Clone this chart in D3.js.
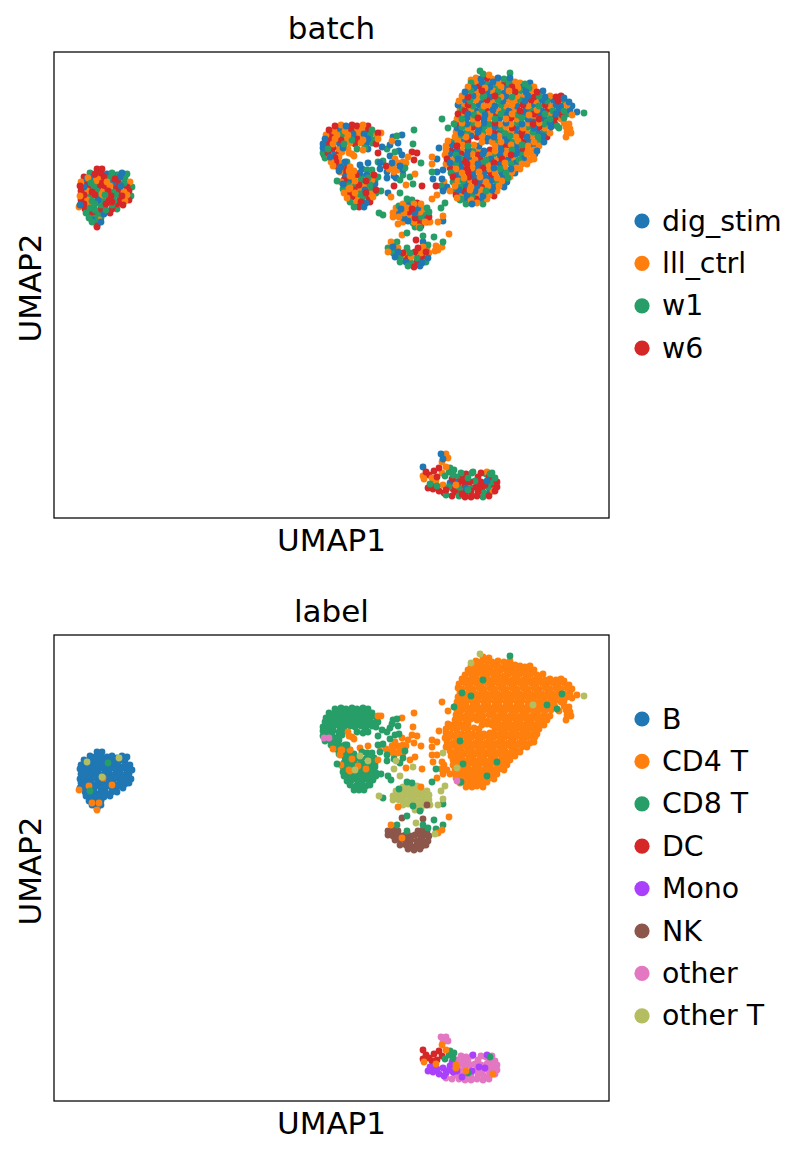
<!DOCTYPE html>
<html>
<head>
<meta charset="utf-8">
<script src="https://cdn.jsdelivr.net/npm/d3@7/dist/d3.min.js"></script>
<style>
html,body{margin:0;padding:0;background:#fff}
svg{display:block}
text{font-family:"DejaVu Sans";fill:#000}
</style>
</head>
<body>
<div id="chart"></div>
<script>
// Embedding coordinates are [umap1, umap2, batchIndex]; each array holds one cell type.
const batchNames = ["dig_stim", "lll_ctrl", "w1", "w6"];
const batchColors = ["#1f77b4", "#ff7f0e", "#279e68", "#d62728"];
const labelNames = ["B", "CD4 T", "CD8 T", "DC", "Mono", "NK", "other", "other T"];
const labelColors = ["#1f77b4", "#ff7f0e", "#279e68", "#d62728", "#aa40fc", "#8c564b", "#e377c2", "#b5bd61"];

const bCells = [
[43,349,3],[48,349,3],
[36,345,2],[41,344,3],[47,345,3],[53,344,0],[58,345,2],[63,343,0],[68,345,0],[73,344,2],
[30,341,3],[34,340,1],[39,341,0],[45,340,1],[50,341,3],[56,340,2],[61,339,3],[66,341,0],[71,340,2],
[27,336,1],[32,336,3],[37,335,2],[42,337,1],[48,335,3],[53,336,1],[59,335,0],[64,336,3],[70,335,2],[76,336,1],
[26,332,3],[30,331,0],[35,332,3],[40,331,2],[45,332,3],[51,331,3],[56,332,1],[62,331,3],[67,332,0],[73,331,3],[78,331,2],
[27,327,3],[33,327,1],[38,326,3],[43,327,2],[48,326,1],[54,327,3],[59,326,2],[65,327,3],[70,326,1],[75,327,3],
[26,322,1],[30,323,3],[36,322,2],[41,323,3],[46,322,2],[51,323,2],[57,322,3],[62,323,2],[68,322,3],[73,323,1],[77,322,2],
[27,318,3],[33,318,1],[38,317,2],[44,318,0],[49,317,2],[55,318,3],[60,317,2],[66,318,3],[71,317,1],[75,318,3],
[26,313,0],[30,314,3],[36,313,1],[41,314,2],[47,313,2],[52,314,3],[58,313,2],[63,314,3],[69,313,3],
[31,309,3],[36,309,2],[41,308,2],[47,309,3],[52,308,2],[58,309,3],[63,309,2],
[32,305,2],[38,304,3],[44,305,2],[50,304,0],[56,305,3],
[35,300,2],[41,300,2],[47,300,2],
[38,296,2],[44,295,2],[47,296,0],
[43,292,3]
];
const bAsCd4 = [[35,315,1],[58,316,3],[25,311,1],[43,291,3],[38,298,0],[45,298,1],[49,323,1]];
const bAsCd8 = [[36,310,2],[54,338,2]];
const bAsOtherT = [[33,339,0],[65,343,2],[48,324,1]];

const cd4Cells = [
[429,444,2],[435,443,1],
[422,440,1],[427,439,0],[433,440,3],[438,439,1],[444,440,0],[450,439,2],[456,440,0],
[417,435,2],[422,436,1],[428,435,0],[433,434,2],[439,436,0],[444,435,1],[450,434,3],[455,435,2],[461,436,1],[466,435,1],[471,434,2],[476,435,0],
[414,431,1],[420,430,0],[425,431,3],[431,430,1],[436,431,0],[442,430,2],[447,431,1],[453,430,0],[458,431,3],[464,430,1],[469,431,0],[475,430,2],[480,431,1],
[411,426,0],[417,427,2],[422,426,1],[428,427,3],[433,426,0],[439,427,1],[444,426,2],[450,425,0],[455,427,1],[461,426,3],[466,427,2],[472,426,0],[477,427,1],[483,426,3],[489,427,0],
[408,422,1],[414,421,3],[419,422,0],[425,421,1],[430,422,2],[436,421,0],[441,422,3],[447,421,1],[452,422,0],[458,421,2],[463,422,1],[469,421,1],[474,422,0],[480,421,3],[485,422,2],[491,421,0],[496,422,1],[502,421,3],[507,422,3],[510,420,0],
[405,417,1],[411,418,0],[416,417,2],[422,418,1],[427,417,0],[433,418,3],[438,417,1],[444,418,2],[449,417,0],[455,418,1],[460,417,1],[466,418,2],[471,417,0],[477,418,3],[482,417,1],[488,418,0],[493,417,2],[499,418,0],[504,417,3],[510,418,2],[515,416,0],
[404,413,0],[408,412,1],[414,413,3],[419,412,2],[425,413,0],[430,412,1],[436,413,1],[441,412,0],[447,413,2],[452,412,1],[458,413,1],[463,412,0],[469,413,3],[474,412,1],[480,413,0],[485,412,2],[491,413,3],[496,412,1],[502,413,0],[507,412,0],[513,413,1],[518,412,0],
[406,408,1],[411,407,3],[417,408,1],[422,407,0],[428,408,2],[433,407,3],[439,408,0],[444,407,1],[450,408,2],[455,407,0],[461,408,1],[466,407,3],[472,408,0],[477,407,2],[483,408,1],[488,407,0],[494,408,3],[499,407,2],[505,408,0],[510,407,2],[516,408,0],[523,406,0],
[404,404,3],[409,403,1],[414,404,0],[420,403,2],[425,404,1],[431,403,0],[436,404,1],[442,403,3],[447,404,2],[453,403,0],[458,404,1],[464,403,2],[469,404,0],[475,403,1],[480,404,3],[486,403,0],[491,404,2],[497,403,1],[502,404,0],[508,403,3],[513,404,2],[518,403,1],
[403,399,1],[408,399,2],[413,400,0],[419,399,1],[424,400,3],[430,399,0],[435,400,1],[441,399,2],[446,400,0],[452,399,1],[457,400,3],[463,399,1],[468,400,2],[474,399,0],[479,400,1],[485,399,3],[490,400,0],[496,399,2],[501,400,3],[507,399,1],[510,400,2],
[402,395,3],[408,395,1],[413,394,0],[419,395,2],[424,394,1],[430,395,0],[435,394,2],[441,395,3],[446,394,1],[452,395,0],[457,394,1],[463,395,2],[468,394,0],[474,395,1],[479,394,3],[485,395,1],[490,394,2],[496,395,0],[501,394,3],[510,395,1],[515,394,1],
[403,390,0],[408,391,2],[414,390,1],[419,391,3],[425,390,0],[430,391,2],[436,390,1],[441,391,0],[447,390,2],[452,391,1],[458,390,3],[463,391,0],[469,390,1],[474,391,2],[480,390,0],[485,391,3],[491,390,1],[497,391,0],[505,390,2],[512,391,1],[516,389,1],
[402,386,1],[407,385,0],[413,386,2],[418,385,1],[424,386,0],[429,385,2],[435,386,1],[440,385,3],[446,386,0],[451,385,2],[457,386,1],[462,385,0],[468,386,3],[473,385,1],[479,386,2],[484,385,0],[490,386,2],[496,385,1],[513,386,1],[517,385,1],
[401,381,1],[406,382,2],[412,381,1],[417,382,0],[423,381,3],[428,382,1],[434,380,0],[440,381,0],[445,382,1],[451,381,0],[456,382,2],[462,381,1],[467,382,3],[473,381,0],[478,382,1],[484,381,2],[489,382,0],[493,381,3],[512,381,1],
[394,377,1],[399,376,2],[404,377,1],[409,376,0],[414,377,3],[428,376,1],[433,377,0],[438,376,1],[442,377,2],[447,376,1],[453,377,0],[458,376,2],[464,377,1],[469,376,3],[475,377,0],[480,376,1],[486,377,2],[490,376,0],
[392,372,1],[398,373,0],[403,372,3],[409,373,1],[414,372,2],[420,373,1],[425,372,0],[441,372,1],[446,373,0],[452,372,3],[457,373,1],[463,372,0],[468,373,2],[474,372,1],[479,373,0],[485,372,1],
[392,368,1],[397,367,3],[403,368,0],[408,367,1],[414,368,0],[419,367,2],[425,368,1],[430,367,0],[436,368,3],[441,367,1],[447,368,0],[452,367,1],[458,368,2],[463,367,0],[469,368,3],[474,367,1],[480,368,1],[483,367,0],
[391,363,1],[396,364,0],[402,363,2],[407,364,3],[413,363,0],[418,364,1],[424,363,3],[429,364,0],[435,363,1],[440,364,2],[446,363,0],[451,364,1],[457,363,3],[462,364,0],[468,363,2],[473,364,1],[479,363,1],[481,364,0],
[393,359,3],[399,358,1],[404,359,0],[410,358,3],[415,359,0],[421,358,1],[426,359,3],[432,358,2],[437,359,0],[443,358,1],[448,359,3],[454,358,0],[459,359,1],[465,358,2],[470,359,0],[476,358,1],[480,359,1],
[392,354,1],[396,355,0],[402,354,2],[407,355,0],[413,354,3],[418,355,1],[424,354,0],[429,355,2],[435,354,1],[440,355,3],[446,354,0],[451,355,1],[457,354,2],[462,355,0],[468,354,1],[473,354,1],
[396,350,3],[402,349,1],[407,350,0],[413,349,3],[418,350,1],[424,349,0],[429,350,3],[435,349,1],[440,350,0],[446,349,2],[451,350,1],[457,349,0],[462,350,1],[466,349,1],
[397,345,2],[403,346,0],[408,345,1],[414,346,3],[419,345,0],[425,346,1],[430,345,0],[436,346,3],[441,345,1],[447,346,0],[452,345,2],[458,346,1],[461,345,0],
[399,341,3],[404,341,0],[410,340,1],[415,341,3],[421,340,0],[426,341,1],[432,340,0],[437,341,3],[443,340,1],[448,341,0],[454,340,2],[456,341,1],
[399,336,2],[404,337,1],[410,336,0],[415,337,1],[421,336,3],[426,337,0],[432,336,1],[437,337,0],[443,336,2],[448,337,1],[453,336,0],
[401,332,1],[406,331,2],[412,332,0],[417,331,1],[423,332,0],[428,331,3],[434,332,1],[439,331,0],[445,332,1],[450,331,0],
[401,327,2],[405,328,0],[410,327,3],[416,328,1],[421,327,0],[427,328,1],[432,327,2],[438,328,0],[443,327,1],
[402,323,3],[407,322,1],[413,323,0],[418,322,2],[424,323,1],[429,322,0],[435,323,1],[440,322,3],
[406,318,2],[411,319,0],[417,318,1],[422,319,3],[428,318,0],[433,319,1],
[412,314,2],[418,314,0],[423,315,1],[429,314,2]
];
const cd4AsCd8 = [[406,360,2],[408,408,2],[417,405,2],[429,421,2],[443,339,2],[409,337,2],[503,392,2],[508,407,2],[493,396,2],[456,445,2],[400,394,2],[407,319,2],[433,325,2]];
const cd4AsOtherT = [[426,447,2],[479,396,0],[417,438,1],[530,405,2],[403,333,3]];
const cd4AsOther = [[403,320,1]];

const streakCd4 = [
[388,399,2],[394,390,2],[385,370,0],[378,361,1],[383,359,0],[378,354,1],[378,346,2],[383,346,0],
[379,339,0],[388,339,0],[393,331,0],[389,327,0],[383,323,1],[390,336,1],[387,332,2],[396,327,1]
];
const streakCd8 = [[382,332,3],[378,319,1],[389,297,0]];
const streakOtherT = [[389,348,0],[391,315,2],[387,310,2],[389,302,1],[384,296,1]];

const middleCd4 = [
[360,388,2],[359,374,2],[358,366,3],[348,363,0],[354,361,1],[363,365,3],[360,358,3],[367,355,2],
[348,383,0],[338,355,0],[344,355,1],[349,356,1],[326,355,0],[314,355,0],[306,353,0],[296,351,1],[288,351,3],[279,352,1],
[324,341,2],[356,341,2],[361,344,1],[324,385,3],[327,385,1],[339,351,1],[344,348,1],[349,348,0],[352,333,1],[368,332,3],
[341,359,1],[352,355,1],[346,352,0],[335,349,1],[340,346,1],[332,352,3],[295,365,1],[300,362,1],[286,346,1],[304,335,1],[296,330,1],[312,332,1]
];
const middleCd8 = [
[339,381,0],[343,382,2],[336,373,0],[344,375,0],[328,371,0],[333,369,2],[311,370,2],[324,365,3],[293,356,2],[324,356,2],[329,357,2],
[351,350,2],[333,346,0],[313,348,2],[283,337,2],[327,327,2],[334,325,0],[337,321,1],[329,303,2],[318,348,2],[326,349,0],[308,349,0],
[338,377,1],[345,367,0],[341,366,2],[336,362,0],[349,343,2],[346,338,2],[333,340,0],[340,342,0]
];
const middleOtherT = [[325,305,2],[340,332,3],[346,325,2],[359,334,2],[306,345,0],[314,340,2],[301,331,2],[342,340,0]];

const cd8Cells = [
[281,392,3],[287,393,1],[292,392,0],[298,393,3],[303,392,3],[309,393,1],[314,392,3],
[275,388,3],[280,387,1],[286,388,0],[291,387,1],[297,388,3],[302,387,1],[308,388,1],[313,387,3],[318,388,2],
[272,383,1],[277,384,3],[283,383,1],[288,384,2],[294,383,1],[299,384,0],[305,383,1],[310,384,0],[316,383,2],[322,384,1],
[271,379,0],[276,378,3],[281,379,1],[287,378,3],[292,379,1],[298,378,2],[303,379,3],[309,378,1],[314,379,0],[320,378,2],[324,379,1],
[269,374,0],[274,375,3],[279,374,1],[285,375,0],[290,374,2],[296,375,1],[301,374,3],[307,375,1],[312,374,0],[318,375,2],[322,374,3],
[269,370,0],[274,369,2],[279,370,3],[285,369,1],[289,370,0],[303,369,2],[309,368,1],[314,369,0],
[269,365,2],[274,365,3],[279,364,0],[285,365,3],[288,366,1],
[271,360,2],[276,361,0],[281,360,3],[285,361,1],
[277,356,1],[282,356,3],[287,355,1],[291,356,0],
[282,352,3],[287,351,0],[292,352,3],[296,351,1],
[285,347,0],[290,348,3],[295,347,1],[300,347,1],
[291,343,0],[296,342,1],[302,343,3],[307,342,2],[313,343,0],[318,342,1],[320,343,3],
[290,338,3],[296,338,0],[301,337,1],[307,338,2],[312,337,3],[318,338,1],[321,337,2],
[289,334,0],[294,333,2],[299,334,1],[305,333,3],[310,334,1],[316,333,2],[321,334,0],
[289,329,2],[295,329,1],[300,328,3],[306,329,1],[311,328,0],[317,329,2],[322,328,3],
[290,325,1],[295,324,3],[301,325,1],[306,324,2],[312,325,3],[317,324,1],[322,325,2],
[293,320,1],[298,321,3],[304,320,1],[309,321,2],[315,320,3],[319,321,1],
[296,316,2],[302,315,1],[307,316,3],[312,315,0],[316,316,3],
[300,311,2],[305,311,3],[310,311,0]
];
const cd8AsOther = [[270,363,3],[275,363,1]];
const cd8AsCd4 = [[294,369,1],[298,364,1],[287,351,1],[295,331,1],[298,342,1],[287,336,1]];

const otherTCells = [
[349,314,1],[355,315,0],[360,314,1],[363,315,3],
[342,310,1],[347,309,0],[353,310,1],[358,309,3],[364,310,0],[369,309,1],[373,310,2],
[339,305,1],[344,306,0],[350,305,1],[355,306,3],[361,305,0],[366,306,1],[372,305,2],[375,306,2],
[339,301,1],[345,301,1],[350,300,0],[356,301,1],[361,300,3],[367,301,2],[372,300,0],[375,301,3],
[349,296,1],[354,297,0],[360,296,1],[365,297,3],[371,296,1],[376,296,1],
[361,291,2],[365,291,1],[367,292,3]
];
const otherTAsCd8 = [[353,319,2],[358,318,2],[359,295,2],[366,290,2],[345,312,2]];
const otherTAsCd4 = [[344,294,1],[367,314,1]];
const otherTAsNk = [[373,296,3]];

const nkCells = [
[334,270,2],[339,271,0],[344,270,1],[364,270,3],[369,271,1],[373,270,1],
[334,266,1],[339,265,2],[344,266,0],[349,265,3],[352,266,1],[356,265,2],[361,266,3],[367,265,1],[372,266,3],[375,265,1],
[341,261,0],[346,261,2],[352,260,3],[357,261,1],[363,260,2],[368,261,3],[374,260,0],
[346,256,2],[352,256,0],[357,255,2],[363,256,3],[368,255,0],[372,256,2],
[354,252,2],[360,251,3],[366,252,0]
];
const nkAbove = [[348,283,1],[369,282,2]];
const nkNearCd8 = [[353,285,2],[380,281,2],[343,276,2],[389,276,2],[369,276,0],[382,272,1],[353,270,2],[374,273,2]];
const nkNearCd4 = [[395,284,1],[337,276,1],[388,271,1],[384,268,1],[348,263,1]];
const nkNearOtherT = [[362,278,3],[381,267,1]];

const dcCells = [[369,51,0],[372,46,3],[369,42,1],[375,43,3],[380,47,3],[385,50,3],[383,41,3],[378,40,1],[388,45,1]];
const lowerCd4 = [[370,39,1],[382,37,1],[388,56,1],[402,33,1],[439,27,1],[402,36,1],[412,30,0],[392,51,1]];
const lowerCd8 = [[391,42,2],[396,50,2],[399,43,2],[400,48,2],[395,46,2],[414,28,2],[436,44,2]];
const monoCells = [[376,34,2],[379,29,3],[381,35,0],[385,27,3],[389,33,1],[392,28,3],[396,35,0],[399,29,3],[401,36,0],[403,30,3],[408,24,3],[419,46,2],[433,46,1],[398,39,3],[425,34,3],[418,30,2],[431,33,3],[374,30,3],[383,32,2],[395,31,2],[390,25,3]];
const otherCells = [
[387,64,0],[392,64,1],[389,59,0],[394,60,1],
[403,41,2],[407,45,2],[412,44,3],[418,45,2],[427,45,3],[432,44,2],[438,45,2],[435,41,3],[441,40,2],
[405,36,3],[410,37,3],[416,36,3],[421,37,2],[427,36,3],[433,37,0],[438,36,2],[443,36,3],
[405,31,2],[411,32,3],[417,27,3],[422,31,3],[428,30,3],[434,31,2],[440,31,3],[443,31,3],
[401,26,3],[406,27,2],[412,26,3],[418,22,2],[424,26,3],[430,25,2],[436,26,0],[441,27,3],
[392,23,2],[398,22,3],[405,22,2],[411,21,3],[417,21,3],[423,22,3],[429,21,2],[435,22,3],[424,41,3],[414,40,2],[409,41,3]
];

// Every group with its categorical label, in drawing order
const groups = [
  [bCells, 0], [bAsCd4, 1], [bAsCd8, 2], [bAsOtherT, 7],
  [cd8Cells, 2], [cd8AsCd4, 1], [cd8AsOther, 6],
  [middleCd4, 1], [middleCd8, 2], [middleOtherT, 7],
  [otherTCells, 7], [otherTAsCd8, 2], [otherTAsCd4, 1], [otherTAsNk, 5],
  [nkAbove, 5], [nkCells, 5], [nkNearCd8, 2], [nkNearCd4, 1], [nkNearOtherT, 7],
  [streakCd4, 1], [streakCd8, 2], [streakOtherT, 7],
  [cd4Cells, 1], [cd4AsCd8, 2], [cd4AsOtherT, 7], [cd4AsOther, 6],
  [otherCells, 6], [dcCells, 3], [monoCells, 4], [lowerCd8, 2], [lowerCd4, 1]
];
const cells = groups.flatMap(([rows, label]) => rows.map(([u1, u2, batch]) => ({u1, u2, batch, label})));

const width = 809, height = 1155;
const panelW = 555, panelH = 466, left = 54;
const svg = d3.select("#chart").append("svg").attr("width", width).attr("height", height);

const x = d3.scaleLinear().domain([0, 555]).range([0, panelW]);
const y = d3.scaleLinear().domain([0, 466]).range([panelH, 0]);

// Batch colours interleave when cells are visited in golden-ratio order
const batchOrder = d3.range(cells.length)
  .sort((a, b) => (a * 0.618034) % 1 - (b * 0.618034) % 1)
  .map(i => cells[i]);

function panel(top, title, names, colors, key, order, legendY) {
  const g = svg.append("g").attr("transform", `translate(${left},${top})`);
  g.append("g").selectAll("circle").data(order).join("circle")
    .attr("cx", d => x(d.u1)).attr("cy", d => y(d.u2)).attr("r", 3.4)
    .attr("fill", d => colors[d[key]]);
  g.append("rect").attr("width", panelW).attr("height", panelH)
    .attr("fill", "none").attr("stroke", "#000").attr("stroke-width", 1.25);
  g.append("text").attr("x", panelW / 2).attr("y", -13).attr("text-anchor", "middle")
    .attr("font-size", 31).text(title);
  g.append("text").attr("x", panelW / 2).attr("y", panelH + 33).attr("text-anchor", "middle")
    .attr("font-size", 31).text("UMAP1");
  g.append("text").attr("transform", `translate(-13,${panelH / 2 + 3}) rotate(-90)`).attr("text-anchor", "middle")
    .attr("font-size", 31).text("UMAP2");
  const legend = g.append("g").selectAll("g").data(names).join("g")
    .attr("transform", (d, i) => `translate(${588},${legendY + i * 42.4 - top})`);
  legend.append("circle").attr("r", 7.6).attr("fill", (d, i) => colors[i]);
  legend.append("text").attr("x", 20).attr("y", 9.5).attr("font-size", 28.4).text(d => d);
}

panel(52, "batch", batchNames, batchColors, "batch", batchOrder, 221);
panel(635, "label", labelNames, labelColors, "label", cells, 719);
</script>
</body>
</html>
